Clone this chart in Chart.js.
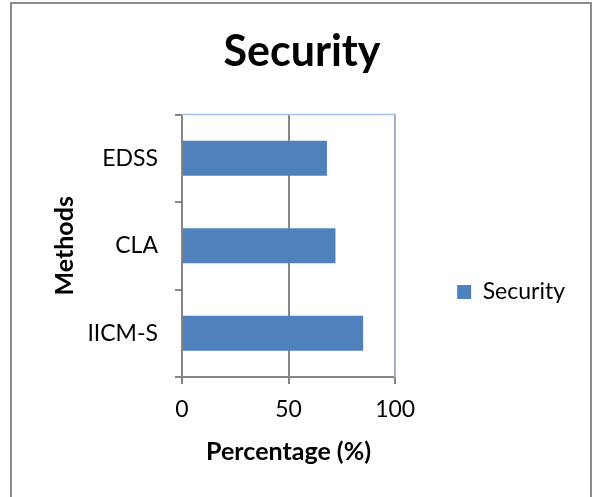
<!DOCTYPE html>
<html lang="en">
<head>
  <meta charset="UTF-8">
  <title>Security</title>
  <script src="https://cdn.jsdelivr.net/npm/chart.js"></script>
  <style>
    body { margin: 0; background: #fff; }
    #wrap { position: relative; width: 592px; height: 497px; overflow: hidden; }
    #frame { position: absolute; left: 10px; top: 2px; width: 578px; height: 520px; border: 2px solid #8c8c8c; }
    canvas { position: absolute; left: 0; top: 0; }
  </style>
</head>
<body>
  <div id="wrap">
    <div id="frame"></div>
    <canvas id="securityChart" width="592" height="497"></canvas>
  </div>

  <script>
    const methods = ['EDSS', 'CLA', 'IICM-S'];
    const security = [68, 72, 85];
    const xTicks = [0, 50, 100];

    const FONT = 'Lato, "Open Sans", sans-serif';
    const AXIS_GREY = '#868686';

    // light blue plot-area edge on the top and right, like the spreadsheet export
    const plotBorder = {
      id: 'plotBorder',
      afterDatasetsDraw(chart) {
        const { ctx, chartArea: a } = chart;
        ctx.save();
        ctx.strokeStyle = '#a9c0e6';
        ctx.lineWidth = 1.5;
        ctx.beginPath();
        ctx.moveTo(a.left, a.top);
        ctx.lineTo(a.right, a.top);
        ctx.lineTo(a.right, a.bottom);
        ctx.stroke();
        ctx.restore();
      }
    };

    const ctx = document.getElementById('securityChart').getContext('2d');
    new Chart(ctx, {
      type: 'bar',
      data: {
        labels: methods,
        datasets: [{
          label: 'Security',
          data: security,
          backgroundColor: '#4f81bd',
          borderWidth: 0,
          categoryPercentage: 1,
          barPercentage: 0.4
        }]
      },
      options: {
        indexAxis: 'y',
        responsive: false,
        animation: false,
        layout: { padding: { top: 10, left: 29, right: 17, bottom: 22 } },
        plugins: {
          title: {
            display: true,
            text: 'Security',
            color: '#000',
            font: { family: FONT, size: 43, weight: 'bold' },
            padding: { top: 16, bottom: 37 }
          },
          legend: {
            position: 'right',
            maxWidth: 260,
            // empty legend title only pushes the single item down to where the original has it
            title: { display: true, text: '', font: { size: 10 }, padding: { top: 87, bottom: 0 } },
            labels: {
              color: '#000',
              font: { family: FONT, size: 23 },
              boxWidth: 14,
              boxHeight: 14,
              padding: 62
            }
          },
          tooltip: { enabled: false }
        },
        scales: {
          x: {
            min: 0,
            max: 100,
            afterBuildTicks(scale) { scale.ticks = xTicks.map(v => ({ value: v })); },
            afterFit(scale) { scale.height = 98; },
            grid: { color: AXIS_GREY, lineWidth: 2, tickLength: 7 },
            border: { color: AXIS_GREY, width: 2 },
            ticks: { color: '#000', font: { family: FONT, size: 23 }, padding: 12, maxRotation: 0 },
            title: {
              display: true,
              text: 'Percentage (%)',
              color: '#000',
              font: { family: FONT, size: 25, weight: 'bold' },
              padding: { top: 13, bottom: 8 }
            }
          },
          y: {
            afterFit(scale) { scale.width = 153; },
            grid: { offset: true, drawOnChartArea: false, color: AXIS_GREY, lineWidth: 2, tickLength: 7 },
            border: { color: AXIS_GREY, width: 2 },
            ticks: { color: '#000', font: { family: FONT, size: 23 }, padding: 17 },
            title: {
              display: true,
              text: 'Methods',
              color: '#000',
              font: { family: FONT, size: 25, weight: 'bold' },
              padding: { top: 21, bottom: 7 }
            }
          }
        }
      },
      plugins: [plotBorder]
    });
  </script>
</body>
</html>
